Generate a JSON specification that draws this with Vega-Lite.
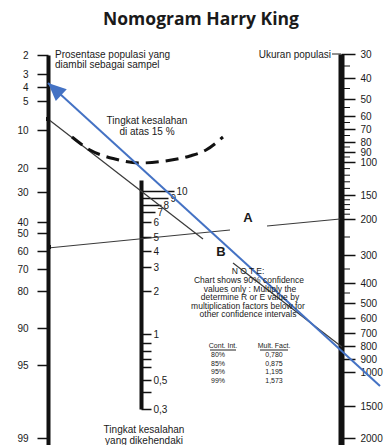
{
  "$schema": "https://vega.github.io/schema/vega-lite/v6.json",
  "width": 388,
  "height": 445,
  "autosize": {"type": "none"},
  "padding": 0,
  "background": "white",
  "config": {"view": {"stroke": null}, "text": {"font": "Liberation Sans", "color": "#1a1a1a"}},
  "datasets": {
    "lines": [
      {"seg": "a", "x": 48, "y": 119}, {"seg": "a", "x": 203, "y": 239},
      {"seg": "b", "x": 233, "y": 263}, {"seg": "b", "x": 342, "y": 347},
      {"seg": "c", "x": 48, "y": 248}, {"seg": "c", "x": 230, "y": 230},
      {"seg": "d", "x": 267, "y": 226}, {"seg": "d", "x": 340, "y": 219}
    ],
    "dashed": [
      {"x": 72, "y": 137}, {"x": 90, "y": 150}, {"x": 115, "y": 159}, {"x": 140, "y": 163},
      {"x": 165, "y": 161}, {"x": 190, "y": 156}, {"x": 206, "y": 150}, {"x": 223, "y": 137}
    ],
    "arrow": [{"end": "head", "x": 48, "y": 83}, {"end": "tail", "x": 380, "y": 386}],
    "knots": [{"x": 48, "y": 119}, {"x": 49, "y": 247}],
    "rules": [
      {"x": 332, "x2": 341, "y": 54},
      {"x": 210, "x2": 236, "y": 350},
      {"x": 260, "x2": 288, "y": 350}
    ],
    "title": [{"x": 201, "y": 20, "text": "Nomogram Harry King"}],
    "capLeft": [
      {"x": 55, "y": 55, "text": "Prosentase populasi yang"},
      {"x": 55, "y": 65, "text": "diambil sebagai sampel"}
    ],
    "capRight": [{"x": 331, "y": 55, "text": "Ukuran populasi"}],
    "capCenter": [
      {"x": 147, "y": 121, "text": "Tingkat kesalahan"},
      {"x": 147, "y": 132, "text": "di atas 15 %"},
      {"x": 144, "y": 430, "text": "Tingkat kesalahan"},
      {"x": 144, "y": 441, "text": "yang dikehendaki"}
    ],
    "note": [
      {"x": 248, "y": 271, "text": "N O T E:"},
      {"x": 249, "y": 280, "text": "Chart shows 90% confidence"},
      {"x": 250, "y": 288.5, "text": "values only : Multiply the"},
      {"x": 250, "y": 297, "text": "determine R or E value by"},
      {"x": 248, "y": 305.5, "text": "multiplication factors below for"},
      {"x": 248, "y": 314, "text": "other confidence intervals"}
    ],
    "table": [
      {"x": 223, "y": 346, "text": "Cont. Int."},
      {"x": 274, "y": 346, "text": "Mult. Fact."},
      {"x": 218, "y": 355, "text": "80%"}, {"x": 274, "y": 355, "text": "0,780"},
      {"x": 218, "y": 363.5, "text": "85%"}, {"x": 274, "y": 363.5, "text": "0,875"},
      {"x": 218, "y": 372, "text": "95%"}, {"x": 274, "y": 372, "text": "1,195"},
      {"x": 218, "y": 380.5, "text": "99%"}, {"x": 274, "y": 380.5, "text": "1,573"}
    ],
    "letters": [{"x": 248, "y": 218, "text": "A"}, {"x": 221, "y": 252, "text": "B"}]
  },
  "resolve": {"scale": {"y": "independent"}, "axis": {"y": "independent"}},
  "layer": [
    {
      "encoding": {
        "x": {"field": "x", "type": "quantitative", "scale": {"domain": [0, 388], "range": [0, 388], "nice": false, "zero": false}, "axis": null},
        "y": {"field": "y", "type": "quantitative", "scale": {"domain": [0, 445], "range": [0, 445], "nice": false, "zero": false}, "axis": null}
      },
      "layer": [
        {"data": {"name": "lines"}, "mark": {"type": "line", "color": "#3a3a3a", "strokeWidth": 1.2}, "encoding": {"detail": {"field": "seg"}}},
        {"data": {"name": "dashed"}, "mark": {"type": "line", "color": "#111111", "strokeWidth": 3, "strokeDash": [13, 7], "interpolate": "monotone"}},
        {"data": {"name": "knots"}, "mark": {"type": "point", "shape": "square", "filled": true, "color": "#111111", "size": 16, "opacity": 1}},
        {"data": {"name": "rules"}, "mark": {"type": "rule", "color": "#222222", "strokeWidth": 1}, "encoding": {"x2": {"field": "x2"}}},
        {"data": {"name": "arrow"}, "mark": {"type": "line", "color": "#4472C4", "strokeWidth": 2}},
        {"data": {"name": "arrow"}, "transform": [{"filter": "datum.end == 'head'"}], "mark": {"type": "point", "shape": "M0,0L-0.9,2L0.9,2Z", "filled": true, "color": "#4472C4", "opacity": 1, "size": 324, "angle": 312.4}},
        {"data": {"name": "title"}, "mark": {"type": "text", "font": "Open Sans", "fontWeight": "bold", "fontSize": 17.5, "align": "center", "baseline": "middle", "color": "#1a1a1a"}, "encoding": {"text": {"field": "text"}}},
        {"data": {"name": "capLeft"}, "mark": {"type": "text", "fontSize": 10, "align": "left", "baseline": "middle"}, "encoding": {"text": {"field": "text"}}},
        {"data": {"name": "capRight"}, "mark": {"type": "text", "fontSize": 10, "align": "right", "baseline": "middle"}, "encoding": {"text": {"field": "text"}}},
        {"data": {"name": "capCenter"}, "mark": {"type": "text", "fontSize": 10, "align": "center", "baseline": "middle"}, "encoding": {"text": {"field": "text"}}},
        {"data": {"name": "note"}, "mark": {"type": "text", "fontSize": 8.5, "align": "center", "baseline": "middle"}, "encoding": {"text": {"field": "text"}}},
        {"data": {"name": "table"}, "mark": {"type": "text", "fontSize": 7, "align": "center", "baseline": "middle"}, "encoding": {"text": {"field": "text"}}},
        {"data": {"name": "letters"}, "mark": {"type": "text", "fontSize": 13, "fontWeight": "bold", "align": "center", "baseline": "middle"}, "encoding": {"text": {"field": "text"}}}
      ]
    },
    {
      "data": {"values": [{"pct": 2}, {"pct": 99}]},
      "mark": {"type": "point", "opacity": 0},
      "encoding": {
        "x": {"datum": 48, "type": "quantitative", "scale": {"domain": [0, 388], "range": [0, 388], "nice": false, "zero": false}, "axis": null},
        "y": {
          "field": "pct", "type": "quantitative",
          "scale": {"domain": [2, 3, 4, 5, 10, 20, 30, 40, 50, 60, 70, 80, 90, 95, 99, 99.9], "range": [55, 74, 87, 101, 130, 168, 192, 222, 233, 251, 269, 291, 328, 365, 438, 452], "nice": false, "zero": false},
          "axis": {"orient": "left", "offset": -48, "values": [2, 3, 4, 5, 10, 20, 30, 40, 50, 60, 70, 80, 90, 95, 99], "format": "d", "title": null, "grid": false, "domainColor": "#111111", "domainWidth": 4, "tickColor": "#111111", "tickWidth": 1.5, "tickSize": 11, "labelPadding": 9, "labelFont": "Liberation Sans", "labelFontSize": 10, "labelColor": "#1a1a1a", "labelFlush": false, "labelOverlap": false, "labelBound": false}
        }
      }
    },
    {
      "data": {"values": [{"err": 0.3}, {"err": 10}]},
      "mark": {"type": "point", "opacity": 0},
      "encoding": {
        "x": {"datum": 141, "type": "quantitative", "scale": {"domain": [0, 388], "range": [0, 388], "nice": false, "zero": false}, "axis": null},
        "y": {
          "field": "err", "type": "quantitative",
          "scale": {"domain": [0.3, 0.4, 0.5, 0.6, 0.7, 0.8, 0.9, 1, 2, 3, 4, 5, 6, 7, 8, 9, 10, 11.5], "range": [409, 392, 380, 367, 359, 351, 343, 334, 291, 267, 251, 237, 222, 212, 205, 198, 191, 180], "nice": false, "zero": false},
          "axis": {
            "orient": "right", "offset": -247,
            "values": [0.3, 0.4, 0.5, 0.6, 0.7, 0.8, 0.9, 1, 2, 3, 4, 5, 6, 7, 8, 9, 10],
            "labelExpr": "(datum.value == 0.4 || (datum.value > 0.55 && datum.value < 0.95)) ? '' : replace(format(datum.value, '~g'), '.', ',')",
            "title": null, "grid": false, "domainColor": "#111111", "domainWidth": 4, "tickColor": "#111111", "tickWidth": 1.5,
            "tickSize": {"condition": [{"test": "datum.value == 10", "value": 33}, {"test": "datum.value == 9", "value": 27}, {"test": "datum.value == 8", "value": 20}, {"test": "datum.value == 7", "value": 14}], "value": 10},
            "labelPadding": 2, "labelFont": "Liberation Sans", "labelFontSize": 10, "labelColor": "#1a1a1a", "labelFlush": false, "labelOverlap": false, "labelBound": false
          }
        }
      }
    },
    {
      "data": {"values": [{"n": 35}, {"n": 45}, {"n": 55}, {"n": 65}, {"n": 75}, {"n": 85}, {"n": 95}, {"n": 110}, {"n": 120}, {"n": 130}, {"n": 140}, {"n": 160}, {"n": 170}, {"n": 180}, {"n": 190}, {"n": 250}, {"n": 350}, {"n": 450}]},
      "mark": {"type": "rule", "color": "#111111", "strokeWidth": 1},
      "encoding": {
        "x": {"datum": 344, "type": "quantitative", "scale": {"domain": [0, 388], "range": [0, 388], "nice": false, "zero": false}, "axis": null},
        "x2": {"datum": 350},
        "y": {
          "field": "n", "type": "quantitative",
          "scale": {"domain": [30, 40, 50, 60, 70, 80, 90, 100, 150, 200, 300, 400, 500, 600, 700, 800, 900, 1000, 1500, 2000, 2300], "range": [54, 78, 99, 116, 129, 142, 152, 162, 195, 219, 255, 283, 303, 318, 333, 346, 359, 372, 406, 438, 452], "nice": false, "zero": false},
          "axis": {"orient": "right", "offset": -47, "values": [30, 40, 50, 60, 70, 80, 90, 100, 150, 200, 300, 400, 500, 600, 700, 800, 900, 1000, 1500, 2000], "format": "d", "title": null, "grid": false, "domainColor": "#111111", "domainWidth": 6, "tickColor": "#111111", "tickWidth": 1.5, "tickSize": 14, "labelPadding": 5, "labelFont": "Liberation Sans", "labelFontSize": 10, "labelColor": "#1a1a1a", "labelFlush": false, "labelOverlap": false, "labelBound": false}
        }
      }
    }
  ]
}
